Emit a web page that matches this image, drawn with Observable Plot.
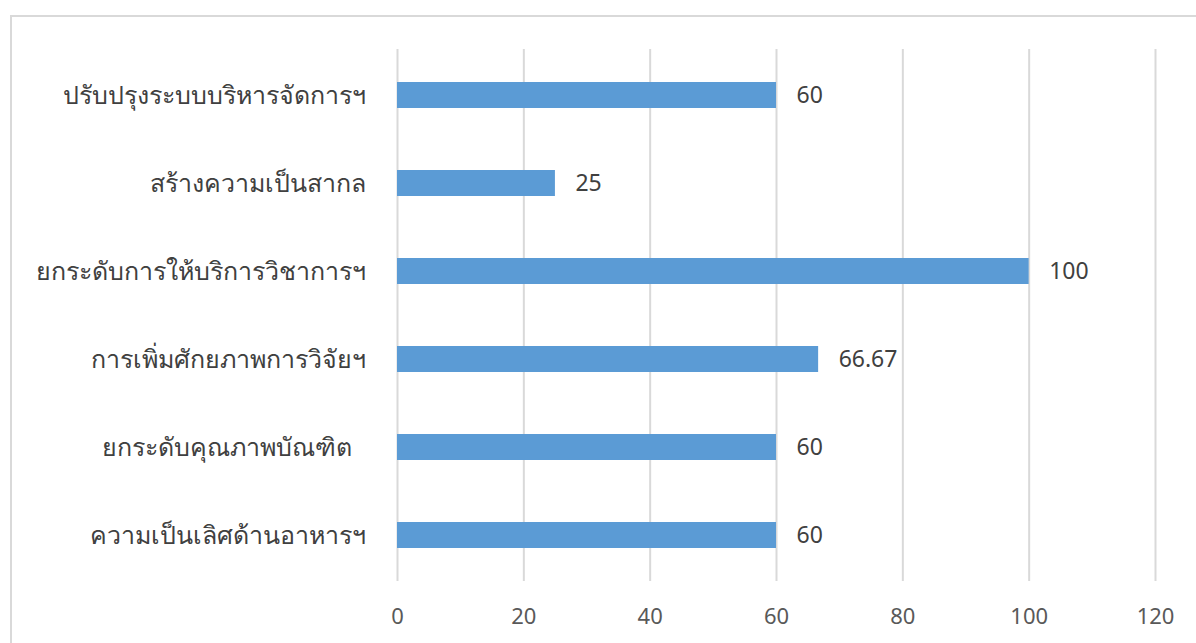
<!DOCTYPE html>
<html>
<head>
<meta charset="utf-8">
<script src="https://cdn.jsdelivr.net/npm/d3@7"></script>
<script src="https://cdn.jsdelivr.net/npm/@observablehq/plot@0.6"></script>
<style>
  html, body { margin: 0; padding: 0; background: #fff; overflow: hidden; }
  #frame { position: absolute; left: 10px; top: 15px; width: 1300px; height: 800px; border: 2px solid #d9d9d9; box-sizing: border-box; }
  #chart { position: absolute; left: 0; top: 0; }
</style>
</head>
<body>
<div id="frame"></div>
<div id="chart"></div>
<script>
const categories = [
  "ปรับปรุงระบบบริหารจัดการฯ",
  "สร้างความเป็นสากล",
  "ยกระดับการให้บริการวิชาการฯ",
  "การเพิ่มศักยภาพการวิจัยฯ",
  "ยกระดับคุณภาพบัณฑิต\u00a0\u00a0",
  "ความเป็นเลิศด้านอาหารฯ"
];
const values = [60, 25, 100, 66.67, 60, 60];
const valueLabels = ["60", "25", "100", "66.67", "60", "60"];
const xTicks = [0, 20, 40, 60, 80, 100, 120];

const data = categories.map((c, i) => ({category: c, value: values[i], label: valueLabels[i]}));

const chart = Plot.plot({
  width: 1196,
  height: 643,
  marginLeft: 397,
  marginRight: 41,
  marginTop: 49,
  marginBottom: 62,
  style: {fontFamily: "'Noto Sans', 'Open Sans', sans-serif", background: "transparent", overflow: "visible"},
  x: {domain: [0, 120], ticks: xTicks, label: null},
  y: {domain: categories, paddingInner: 0.7, paddingOuter: 0.35, label: null},
  marks: [
    Plot.gridX(xTicks, {stroke: "#d9d9d9", strokeWidth: 2, strokeOpacity: 1}),
    Plot.barX(data, {x: "value", y: "category", fill: "#5b9bd5", insetTop: 0, insetBottom: 0}),
    Plot.text(data, {x: "value", y: "category", text: "label", textAnchor: "start", dx: 20, fontSize: 23, fill: "#404040"}),
    Plot.axisX({ticks: xTicks, tickSize: 0, tickPadding: 27, fontSize: 22, color: "#595959", label: null}),
    Plot.axisY({tickSize: 0, tickPadding: 32, fontSize: 25, color: "#404040", label: null})
  ]
});
document.getElementById("chart").appendChild(chart);
</script>
</body>
</html>
